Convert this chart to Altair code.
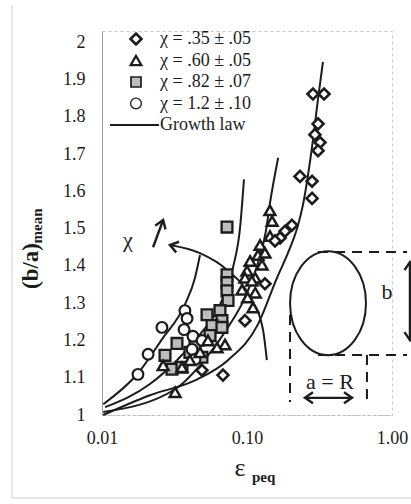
import altair as alt
import pandas as pd

FONT = "Liberation Serif"
INK = "#1c1c1c"

# ---------------- data ----------------
series_labels = ["χ = .35 ± .05", "χ = .60 ± .05", "χ = .82 ± .07", "χ = 1.2 ± .10"]
series_shapes = ["diamond", "triangle-up", "square", "circle"]
series_fills = ["white", "white", "#bdbdbd", "white"]
series_sizes = [120, 115, 100, 115]
series_strokes = [2.6, 2.2, 1.7, 1.3]

dia_x = [0.285, 0.340, 0.309, 0.294, 0.319, 0.309, 0.232, 0.281, 0.281, 0.204,
         0.183, 0.169, 0.156, 0.133, 0.0968, 0.0683, 0.0489]
dia_y = [1.861, 1.861, 1.781, 1.752, 1.731, 1.709, 1.640, 1.627, 1.581, 1.509,
         1.493, 1.475, 1.467, 1.352, 1.253, 1.107, 1.120]

tri_x = [0.144, 0.149, 0.144, 0.123, 0.119, 0.105, 0.127, 0.100, 0.114, 0.0968,
         0.108, 0.0924, 0.110, 0.0705, 0.0621, 0.0538, 0.0474, 0.0356, 0.0264,
         0.0319, 0.0404, 0.133, 0.114, 0.101]
tri_y = [1.549, 1.520, 1.480, 1.456, 1.429, 1.413, 1.403, 1.387, 1.368, 1.368,
         1.360, 1.336, 1.288, 1.189, 1.181, 1.200, 1.168, 1.128, 1.133,
         1.061, 1.147, 1.435, 1.328, 1.315]

sq_x = [0.0728, 0.0728, 0.0728, 0.0728, 0.0740, 0.0530, 0.0651, 0.0672, 0.0574,
        0.0672, 0.0556, 0.0329, 0.0272, 0.0404, 0.0438, 0.0489, 0.0304, 0.0356]
sq_y = [1.504, 1.376, 1.355, 1.333, 1.307, 1.269, 1.280, 1.253, 1.240,
        1.235, 1.213, 1.192, 1.160, 1.168, 1.187, 1.155, 1.123, 1.128]

cir_x = [0.0177, 0.0208, 0.0259, 0.0373, 0.0386, 0.0368, 0.0424, 0.0418, 0.0438, 0.0490]
cir_y = [1.109, 1.163, 1.235, 1.280, 1.259, 1.229, 1.211, 1.176, 1.149, 1.200]

# growth-law curves (one per chi)
g35_x = [0.0102, 0.0214, 0.0438, 0.0739, 0.119, 0.161, 0.198, 0.224, 0.243, 0.280, 0.309, 0.334]
g35_y = [1.000, 1.053, 1.093, 1.147, 1.243, 1.368, 1.448, 1.507, 1.563, 1.715, 1.848, 1.947]
g60_x = [0.0102, 0.0319, 0.0513, 0.0739, 0.0968, 0.119, 0.135, 0.144, 0.164]
g60_y = [1.008, 1.069, 1.149, 1.235, 1.315, 1.408, 1.493, 1.568, 1.690]
g82_x = [0.0105, 0.0214, 0.0329, 0.0474, 0.0651, 0.080, 0.0895, 0.0953]
g82_y = [1.021, 1.083, 1.147, 1.216, 1.296, 1.395, 1.501, 1.632]
g12_x = [0.0102, 0.0177, 0.0259, 0.0373, 0.0438, 0.0474]
g12_y = [1.029, 1.112, 1.203, 1.296, 1.368, 1.429]

# annotation geometry (data coordinates)
arc_x = [0.0294, 0.0474, 0.0728, 0.105, 0.129, 0.137]
arc_y = [1.456, 1.434, 1.389, 1.316, 1.228, 1.147]

seg_x = [0.0225, 0.251, 1.33]
seg_x2 = [0.0264, 0.530, 1.33]
seg_y = [1.450, 1.046, 1.410]
seg_y2 = [1.523, 1.046, 1.201]

dash_x = [0.309, 0.309, 0.198, 0.672]
dash_x2 = [1.27, 1.27, 0.198, 0.672]
dash_y = [1.437, 1.161, 1.268, 1.161]
dash_y2 = [1.437, 1.161, 1.035, 1.035]

head_x = [0.0294, 0.0264, 0.251, 0.530, 1.33, 1.33]
head_y = [1.456, 1.523, 1.046, 1.046, 1.410, 1.201]
head_a = [15, 110, 0, 180, 90, 270]

ell_x = [0.362]
ell_y = [1.300]

txt_s = ["χ", "a = R", "b"]
txt_x = [0.0151, 0.373, 0.924]
txt_y = [1.469, 1.088, 1.330]

y_ticks = [1.0, 1.1, 1.2, 1.3, 1.4, 1.5, 1.6, 1.7, 1.8, 1.9, 2.0]
x_ticks = [0.01, 0.1, 1.0]

# ---------------- tables ----------------
rows = []
for lab, xs_, ys_ in [(series_labels[2], sq_x, sq_y), (series_labels[3], cir_x, cir_y),
                      (series_labels[1], tri_x, tri_y), (series_labels[0], dia_x, dia_y)]:
    for a, b in zip(xs_, ys_):
        rows.append({"x": a, "y": b, "series": lab})
pts = pd.DataFrame(rows)

grows = []
for cid, xs_, ys_ in [("c35", g35_x, g35_y), ("c60", g60_x, g60_y),
                      ("c82", g82_x, g82_y), ("c12", g12_x, g12_y)]:
    for a, b in zip(xs_, ys_):
        grows.append({"x": a, "y": b, "curve": cid})
gl = pd.DataFrame(grows)

arc = pd.DataFrame({"x": arc_x, "y": arc_y})
segs = pd.DataFrame({"x": seg_x, "x2": seg_x2, "y": seg_y, "y2": seg_y2})
dashes = pd.DataFrame({"x": dash_x, "x2": dash_x2, "y": dash_y, "y2": dash_y2})
heads = pd.DataFrame({"x": head_x, "y": head_y, "a": head_a})
ell = pd.DataFrame({"x": ell_x, "y": ell_y})
txt = pd.DataFrame({"t": txt_s, "x": txt_x, "y": txt_y})

# legend table (layout rows)
ROW0, ROWH = 8, 21.5
leg = pd.DataFrame({"label": series_labels, "shape": series_shapes, "fill": series_fills,
                    "size": series_sizes, "sw": series_strokes,
                    "ly": [ROW0 + ROWH * i for i in range(4)]})

xs = alt.Scale(type="log", domain=[0.01, 1.0], nice=False, padding=0)
ys = alt.Scale(domain=[1.0, 2.03], nice=False, zero=False, padding=0)

X = alt.X("x:Q", scale=xs,
          axis=alt.Axis(values=x_ticks, format=".2f", title=None, labelFont=FONT,
                        labelFontSize=18, labelColor=INK, labelOverlap=False,
                        labelFlush=False, labelBound=False,
                        labelPadding=14, tickSize=0, grid=False,
                        domainColor="#bdbdbd", domainDash=[3, 2]))
Y = alt.Y("y:Q", scale=ys,
          axis=alt.Axis(values=y_ticks, format=".1~f", title=None, labelFont=FONT,
                        labelFontSize=18, labelColor=INK, labelOverlap=False,
                        labelFlush=False, labelBound=False,
                        labelPadding=17, tickSize=0, grid=False, domainColor="#9a9a9a"))
X2 = alt.X2("x2:Q")
Y2 = alt.Y2("y2:Q")

lines = alt.Chart(gl).mark_line(strokeWidth=2, interpolate="monotone", color=INK).encode(
    x=X, y=Y, detail="curve:N")

arc_line = alt.Chart(arc).mark_line(strokeWidth=2, color=INK, interpolate="monotone").encode(
    x=X, y=Y)

seg_rules = alt.Chart(segs).mark_rule(strokeWidth=2.4, color=INK).encode(
    x=X, x2=X2, y=Y, y2=Y2)

dash_rules = alt.Chart(dashes).mark_rule(strokeWidth=2, color=INK, strokeDash=[10, 7]).encode(
    x=X, x2=X2, y=Y, y2=Y2)

heads_l = alt.Chart(heads).mark_point(
    shape="M1.6,-1.1 L0,0 L1.6,1.1", size=100, filled=False, strokeWidth=2.4,
    color=INK, opacity=1).encode(
    x=X, y=Y, angle=alt.Angle("a:Q", scale=None))

ell_l = alt.Chart(ell).mark_point(
    shape="M0.73,0 C0.73,0.552 0.403,1 0,1 C-0.403,1 -0.73,0.552 -0.73,0 "
          "C-0.73,-0.552 -0.403,-1 0,-1 C0.403,-1 0.73,-0.552 0.73,0 Z",
    size=10816, filled=False, strokeWidth=2, color=INK, opacity=1).encode(
    x=X, y=Y)

pt_scale = dict(domain=series_labels)
points = alt.Chart(pts).mark_point(filled=True, stroke=INK, opacity=1).encode(
    x=X, y=Y,
    shape=alt.Shape("series:N", scale=alt.Scale(range=series_shapes, **pt_scale), legend=None),
    fill=alt.Fill("series:N", scale=alt.Scale(range=series_fills, **pt_scale), legend=None),
    size=alt.Size("series:N", scale=alt.Scale(range=series_sizes, **pt_scale), legend=None),
    strokeWidth=alt.StrokeWidth("series:N", scale=alt.Scale(range=series_strokes, **pt_scale),
                                legend=None),
)

texts = alt.Chart(txt).mark_text(font=FONT, fontSize=22, color=INK).encode(
    x=X, y=Y, text="t:N")

# legend drawn as marks
leg_sym = alt.Chart(leg).mark_point(filled=True, stroke=INK, opacity=1).encode(
    x=alt.value(34), y=alt.Y("ly:Q", scale=None),
    shape=alt.Shape("shape:N", scale=None), fill=alt.Fill("fill:N", scale=None),
    size=alt.Size("size:Q", scale=None), strokeWidth=alt.StrokeWidth("sw:Q", scale=None))
leg_txt = alt.Chart(leg).mark_text(font=FONT, fontSize=18, color=INK, align="left",
                                   baseline="middle").encode(
    x=alt.value(58), y=alt.Y("ly:Q", scale=None), text="label:N")
leg_line = alt.Chart(ell).mark_rule(strokeWidth=2, color=INK).encode(
    x=alt.value(8), x2=alt.value(57), y=alt.value(ROW0 + ROWH * 4))
leg_line_txt = alt.Chart(ell).mark_text(text="Growth law", font=FONT, fontSize=18, color=INK,
                                        align="left", baseline="middle").encode(
    x=alt.value(58), y=alt.value(ROW0 + ROWH * 4))

# faint scan frame
frame_l = alt.Chart(ell).mark_rule(strokeWidth=1, color="#cfcfcf").encode(
    x=alt.value(-90), y=alt.value(-26), y2=alt.value(467))
frame_b = alt.Chart(ell).mark_rule(strokeWidth=1, color="#cfcfcf").encode(
    x=alt.value(-90), x2=alt.value(309), y=alt.value(467))

ytitle1 = alt.Chart(ell).mark_text(text="(b/a)", font=FONT, fontSize=23, fontWeight="bold",
                                   angle=270, color=INK).encode(
    x=alt.value(-71), y=alt.value(235))
ytitle2 = alt.Chart(ell).mark_text(text="mean", font=FONT, fontSize=15, fontWeight="bold",
                                   angle=270, color=INK).encode(
    x=alt.value(-65), y=alt.value(195))
xtitle1 = alt.Chart(ell).mark_text(text="ε", font=FONT, fontSize=26, color=INK).encode(
    x=alt.value(138), y=alt.value(437))
xtitle2 = alt.Chart(ell).mark_text(text="peq", font=FONT, fontSize=15, fontWeight="bold",
                                   align="left", color=INK).encode(
    x=alt.value(150), y=alt.value(446))

chart = alt.layer(
    frame_l, frame_b,
    lines, arc_line, seg_rules, dash_rules, heads_l, ell_l, points, texts,
    leg_sym, leg_txt, leg_line, leg_line_txt,
    ytitle1, ytitle2, xtitle1, xtitle2
).properties(
    width=290, height=384,
    autosize=alt.AutoSizeParams(type="none"),
    padding={"left": 102, "top": 31, "right": 19, "bottom": 89},
    background="white",
).configure_view(
    stroke="#c8c8c8", strokeDash=[3, 3]
).configure_axis(
    labelFont=FONT, labelFontSize=18, labelColor=INK
)

chart.save("out.html", embed_options={"renderer": "svg", "actions": False})
